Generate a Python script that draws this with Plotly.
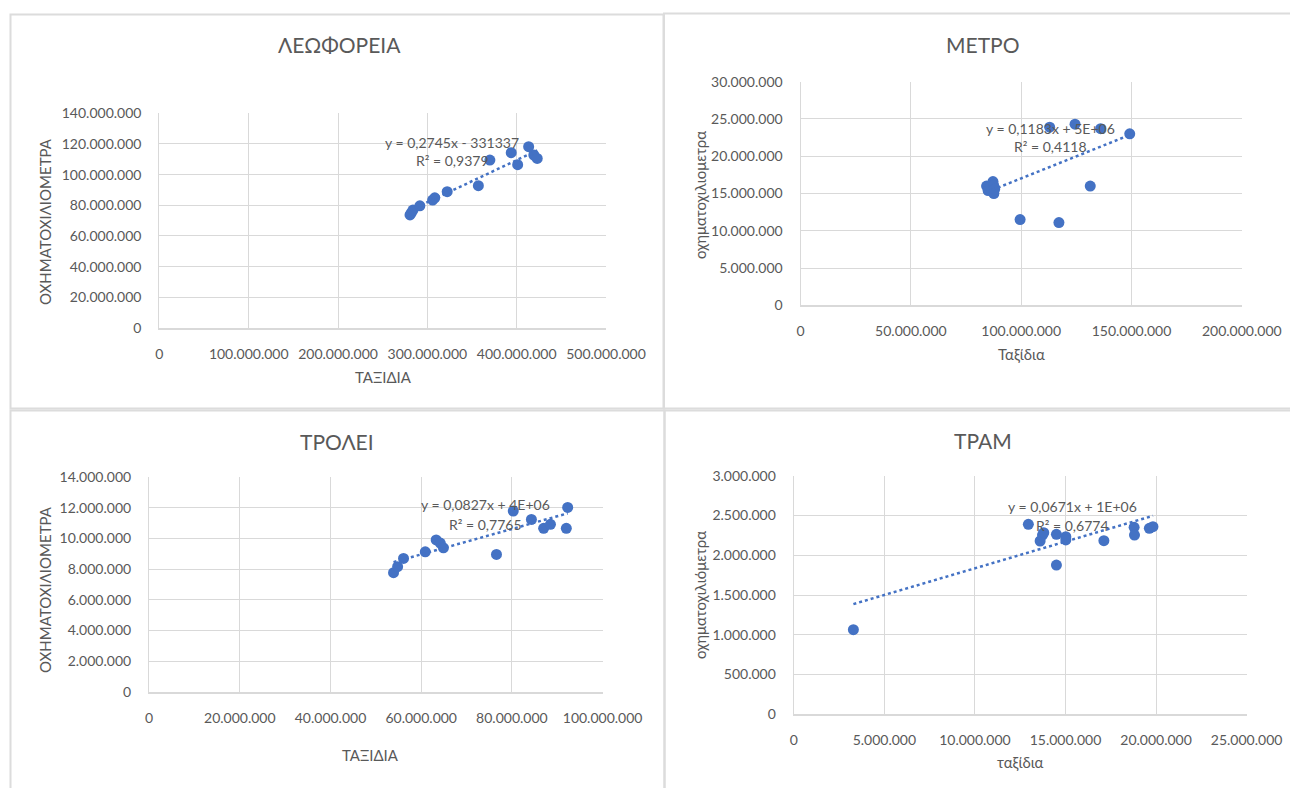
import plotly.graph_objects as go

W, H = 1290, 788

# ---- data (trips vs vehicle-kilometres per transport mode) ----
bus_trips = [280.6e6, 282.0e6, 283.9e6, 291.6e6, 305.9e6, 308.3e6, 322.2e6, 357.1e6,
             370.0e6, 393.9e6, 401.1e6, 413.4e6, 419.2e6, 423.0e6]
bus_vkm = [73.7e6, 75.0e6, 76.9e6, 79.7e6, 83.4e6, 84.9e6, 88.9e6, 92.8e6,
           109.5e6, 114.3e6, 106.5e6, 118.2e6, 112.8e6, 110.6e6]

metro_trips = [84.3e6, 85.0e6, 86.0e6, 87.2e6, 87.5e6, 87.6e6, 88.0e6,
               99.5e6, 117.1e6, 131.3e6, 149.2e6, 136.0e6, 124.4e6, 112.9e6]
metro_vkm = [16.0e6, 15.4e6, 15.8e6, 16.6e6, 16.1e6, 15.0e6, 15.6e6,
             11.5e6, 11.1e6, 16.0e6, 23.0e6, 23.7e6, 24.3e6, 23.9e6]

trolley_trips = [53.9e6, 54.8e6, 56.1e6, 60.9e6, 63.3e6, 64.2e6, 64.9e6,
                 76.6e6, 80.3e6, 84.3e6, 87.0e6, 88.5e6, 92.0e6, 92.3e6]
trolley_vkm = [7.77e6, 8.16e6, 8.70e6, 9.13e6, 9.90e6, 9.70e6, 9.39e6,
               8.96e6, 11.78e6, 11.24e6, 10.66e6, 10.92e6, 10.66e6, 12.02e6]

tram_trips = [3.29e6, 12.95e6, 13.60e6, 13.73e6, 13.80e6, 14.50e6, 14.50e6,
              15.02e6, 15.02e6, 17.12e6, 18.79e6, 18.81e6, 19.63e6, 19.83e6]
tram_vkm = [1.064e6, 2.389e6, 2.179e6, 2.254e6, 2.284e6, 2.263e6, 1.877e6,
            2.233e6, 2.192e6, 2.183e6, 2.351e6, 2.254e6, 2.339e6, 2.359e6]

# linear trendlines (slope, intercept) and their labels
bus_fit = (0.2745, -331337)
metro_fit = (0.1183, 5.2e6)
trolley_fit = (0.0827, 4.0e6)
tram_fit = (0.0671, 1.165e6)

bus_labels = ("y = 0,2745x - 331337", "R² = 0,9379")
metro_labels = ("y = 0,1183x + 5E+06", "R² = 0,4118")
trolley_labels = ("y = 0,0827x + 4E+06", "R² = 0,7765")
tram_labels = ("y = 0,0671x + 1E+06", "R² = 0,6774")

BLUE = "#4472C4"
TXT = "#595959"
GRID = "#d9d9d9"
FONT = "Lato, Calibri, 'Open Sans', sans-serif"


def fx(px):
    return px / W


def fy(py):
    return 1 - py / H


panels = [
    dict(title="ΛΕΩΦΟΡΕΙΑ", xt="ΤΑΞΙΔΙΑ", yt="ΟΧΗΜΑΤΟΧΙΛΙΟΜΕΤΡΑ",
         x=bus_trips, y=bus_vkm, fit=bus_fit, lab=bus_labels,
         box=(159.4, 606.0, 113.3, 328.0), xr=(0, 500e6, 100e6), yr=(0, 140e6, 20e6),
         tpos=(339, 45), xtpos=(383, 377), ytpos=(45, 222), lpos=(452, 142)),
    dict(title="ΜΕΤΡΟ", xt="Ταξίδια", yt="οχηματοχιλιομετρα",
         x=metro_trips, y=metro_vkm, fit=metro_fit, lab=metro_labels,
         box=(800.6, 1241.8, 81.7, 305.3), xr=(0, 200e6, 50e6), yr=(0, 30e6, 5e6),
         tpos=(983, 45), xtpos=(1021, 354), ytpos=(700, 195), lpos=(1050, 128)),
    dict(title="ΤΡΟΛΕΙ", xt="ΤΑΞΙΔΙΑ", yt="ΟΧΗΜΑΤΟΧΙΛΙΟΜΕΤΡΑ",
         x=trolley_trips, y=trolley_vkm, fit=trolley_fit, lab=trolley_labels,
         box=(149.1, 602.6, 477.0, 692.0), xr=(0, 100e6, 20e6), yr=(0, 14e6, 2e6),
         tpos=(337, 442), xtpos=(370, 755), ytpos=(45, 590), lpos=(485, 505)),
    dict(title="ΤΡΑΜ", xt="ταξίδια", yt="οχηματοχιλιόμετρα",
         x=tram_trips, y=tram_vkm, fit=tram_fit, lab=tram_labels,
         box=(793.8, 1246.6, 475.7, 714.3), xr=(0, 25e6, 5e6), yr=(0, 3e6, 0.5e6),
         tpos=(983, 440), xtpos=(1020, 762), ytpos=(700, 595), lpos=(1072, 506)),
]

fig = go.Figure()
annotations = []
layout_axes = {}

for i, p in enumerate(panels, start=1):
    sfx = "" if i == 1 else str(i)
    xa, ya = "x" + sfx, "y" + sfx
    x0, x1, yt, yb = p["box"]

    fig.add_trace(go.Scatter(
        x=p["x"], y=p["y"], mode="markers", xaxis=xa, yaxis=ya,
        marker=dict(color=BLUE, size=11, line=dict(width=0)),
        showlegend=False, hoverinfo="x+y"))

    m, b = p["fit"]
    xs = [min(p["x"]), max(p["x"])]
    fig.add_trace(go.Scatter(
        x=xs, y=[m * v + b for v in xs], mode="lines", xaxis=xa, yaxis=ya,
        line=dict(color=BLUE, width=2.5, dash="dot"),
        showlegend=False, hoverinfo="skip"))

    axis_common = dict(
        showgrid=True, gridcolor=GRID, gridwidth=1.3,
        zeroline=False, tickformat=",.0f", automargin=False,
        tickfont=dict(family=FONT, size=14, color=TXT),
        ticks="", fixedrange=True)
    layout_axes["xaxis" + sfx] = dict(
        axis_common, domain=[fx(x0), fx(x1)], anchor=ya,
        range=[p["xr"][0], p["xr"][1]], tick0=0, dtick=p["xr"][2],
        showline=True, linecolor=GRID, linewidth=2, ticklabelstandoff=12)
    layout_axes["yaxis" + sfx] = dict(
        axis_common, domain=[fy(yb), fy(yt)], anchor=xa,
        range=[p["yr"][0], p["yr"][1]], tick0=0, dtick=p["yr"][2],
        showline=True, linecolor=GRID, linewidth=1.3, ticklabelstandoff=14)

    annotations.append(dict(
        text=p["title"], x=fx(p["tpos"][0]), y=fy(p["tpos"][1]),
        xref="paper", yref="paper", showarrow=False,
        xanchor="center", yanchor="middle",
        font=dict(family=FONT, size=21, color=TXT)))
    annotations.append(dict(
        text=p["xt"], x=fx(p["xtpos"][0]), y=fy(p["xtpos"][1]),
        xref="paper", yref="paper", showarrow=False,
        xanchor="center", yanchor="middle",
        font=dict(family=FONT, size=15, color=TXT)))
    annotations.append(dict(
        text=p["yt"], x=fx(p["ytpos"][0]), y=fy(p["ytpos"][1]),
        xref="paper", yref="paper", showarrow=False, textangle=-90,
        xanchor="center", yanchor="middle",
        font=dict(family=FONT, size=15, color=TXT)))
    eq, r2 = p["lab"]
    annotations.append(dict(
        text=eq, x=fx(p["lpos"][0]), y=fy(p["lpos"][1]),
        xref="paper", yref="paper", showarrow=False,
        xanchor="center", yanchor="middle",
        font=dict(family=FONT, size=14, color=TXT)))
    annotations.append(dict(
        text=r2, x=fx(p["lpos"][0]), y=fy(p["lpos"][1] + 19),
        xref="paper", yref="paper", showarrow=False,
        xanchor="center", yanchor="middle",
        font=dict(family=FONT, size=14, color=TXT)))

# chart frames around each panel (right/bottom edges run off the page)
BORDER = "#dcdcdc"
frames = [
    (10.5, 663.5, 14.5, 408.5),
    (664.0, 1294.0, 13.5, 408.5),
    (10.5, 664.5, 410.5, 794.0),
    (664.5, 1294.0, 410.5, 794.0),
]
shapes = []
for (l, r, t, bt) in frames:
    shapes.append(dict(type="rect", xref="paper", yref="paper",
                       x0=fx(l), x1=fx(r), y0=fy(bt), y1=fy(t),
                       line=dict(color=BORDER, width=2), layer="below"))

fig.update_layout(
    width=W, height=H, margin=dict(l=0, r=0, t=0, b=0, pad=0, autoexpand=False),
    paper_bgcolor="white", plot_bgcolor="white",
    separators=",.", annotations=annotations, shapes=shapes,
    font=dict(family=FONT, color=TXT),
    **layout_axes)

# the page body gets no default margin so the figure sits flush in the window
fig.write_html(
    "out.html",
    post_script="document.body.style.margin='0';document.body.style.overflow='hidden';")
